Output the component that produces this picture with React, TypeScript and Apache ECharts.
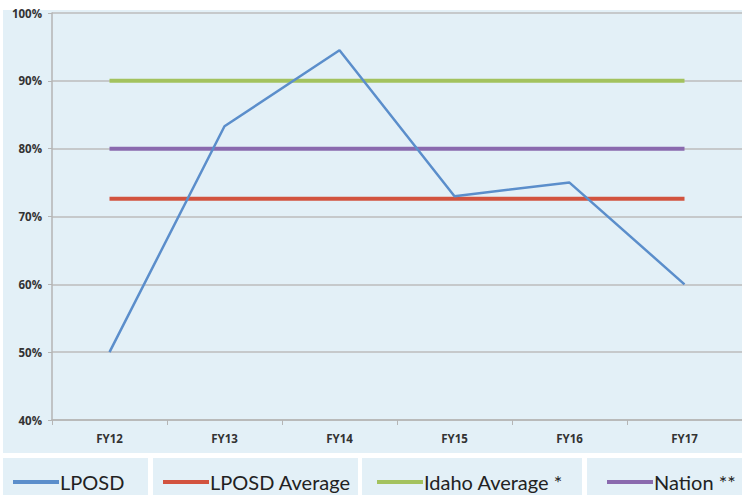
import React, { useEffect, useRef } from "react";
import * as echarts from "echarts";

const categories = ["FY12", "FY13", "FY14", "FY15", "FY16", "FY17"];
const lposd = [50, 83.3, 94.5, 73, 75, 60];
const lposdAverage = [72.6, 72.6, 72.6, 72.6, 72.6, 72.6];
const idahoAverage = [90, 90, 90, 90, 90, 90];
const nation = [80, 80, 80, 80, 80, 80];
const seriesNames = ["LPOSD", "LPOSD Average", "Idaho Average *", "Nation **"];
const colors = ["#5b8ecb", "#d2533f", "#a3c25e", "#8a6aae"];

const BG = "#e3f0f7";

export default function App() {
  const ref = useRef<HTMLDivElement>(null);
  useEffect(() => {
    document.body.style.margin = "0";
    const chart = echarts.init(ref.current!, undefined, { renderer: "svg" });
    const legendLefts = [8, 158, 372, 602];
    const boxes = [
      [3, 148],
      [153, 358],
      [362, 582],
      [587, 742],
    ];
    chart.setOption({
      animation: false,
      backgroundColor: "#ffffff",
      graphic: [
        {
          type: "rect",
          z: -10,
          shape: { x: 3, y: 10, width: 739, height: 443 },
          style: { fill: BG },
        },
        ...boxes.map((b) => ({
          type: "rect",
          z: -10,
          shape: { x: b[0], y: 458, width: b[1] - b[0], height: 40 },
          style: { fill: BG },
        })),
      ],
      legend: seriesNames.map((n, i) => ({
        data: [n],
        left: legendLefts[i],
        top: 467,
        icon: "rect",
        itemWidth: 46,
        itemHeight: 4,
        itemGap: 4,
        selectedMode: false,
        textStyle: {
          fontFamily: "Lato",
          fontSize: 20,
          color: "#222",
          padding: [0, 0, 0, -4],
        },
      })),
      grid: { left: 52, top: 13, right: -6, height: 407, containLabel: false },
      xAxis: {
        type: "category",
        data: categories,
        boundaryGap: true,
        axisLine: { lineStyle: { color: "#b5b5b5", width: 1.5 } },
        axisTick: { show: true, length: 5, lineStyle: { color: "#b5b5b5" } },
        axisLabel: {
          margin: 12,
          fontFamily: "Open Sans",
          fontWeight: "bold",
          fontSize: 11.5,
          color: "#333",
        },
      },
      yAxis: {
        type: "value",
        min: 40,
        max: 100,
        interval: 10,
        axisLine: { show: true, lineStyle: { color: "#b5b5b5", width: 1.5 } },
        axisTick: { show: true, length: 4, lineStyle: { color: "#b5b5b5" } },
        splitLine: { lineStyle: { color: "#bcbcbc", width: 1.5 } },
        axisLabel: {
          formatter: "{value}%",
          margin: 10,
          fontFamily: "Open Sans",
          fontWeight: "bold",
          fontSize: 11.5,
          color: "#333",
        },
      },
      series: [
        { name: seriesNames[0], data: lposd, width: 2.5 },
        { name: seriesNames[1], data: lposdAverage, width: 4 },
        { name: seriesNames[2], data: idahoAverage, width: 4 },
        { name: seriesNames[3], data: nation, width: 4 },
      ].map((s, i) => ({
        type: "line",
        name: s.name,
        data: s.data,
        symbol: "none",
        color: colors[i],
        z: i === 0 ? 5 : 3,
        lineStyle: { width: s.width, color: colors[i] },
      })),
    });
    return () => chart.dispose();
  }, []);
  return <div ref={ref} style={{ width: 742, height: 495 }} />;
}
